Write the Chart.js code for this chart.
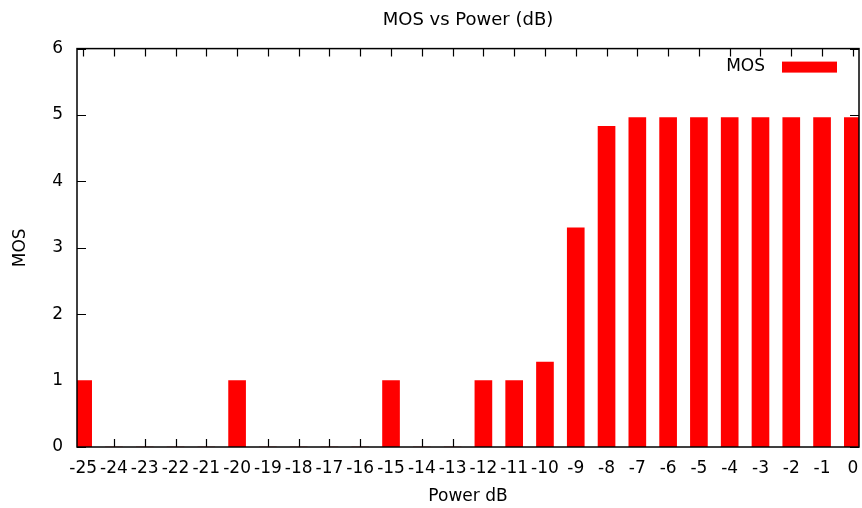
<!DOCTYPE html>
<html>
<head>
<meta charset="utf-8">
<script src="https://cdn.jsdelivr.net/npm/chart.js@4.4.1/dist/chart.umd.min.js"></script>
<style>
  html, body { margin: 0; padding: 0; background: #fff; }
  #wrap { width: 862px; height: 508px; }
</style>
</head>
<body>
<div id="wrap"><canvas id="chart"></canvas></div>
<script>
const powerDb = [-25, -24, -23, -22, -21, -20, -19, -18, -17, -16, -15, -14, -13,
  -12, -11, -10, -9, -8, -7, -6, -5, -4, -3, -2, -1, 0];
const mos = [1, 0, 0, 0, 0, 1, 0, 0, 0, 0, 1, 0, 0,
  1, 1, 1.28, 3.3, 4.83, 4.96, 4.96, 4.96, 4.96, 4.96, 4.96, 4.96, 4.96];
const yTicks = [0, 1, 2, 3, 4, 5, 6];

const FONT = "'DejaVu Sans', sans-serif";
const INK = "#000";
const SIZE = 17;

// gnuplot look: box border + inward ticks on all four sides
const frame = {
  id: "frame",
  beforeDatasetsDraw(c) {
    const { ctx, chartArea: a, scales } = c;
    ctx.save();
    ctx.strokeStyle = INK;
    ctx.lineWidth = 1.2;
    ctx.beginPath();
    scales.x.ticks.forEach((t) => {
      const px = Math.round(scales.x.getPixelForValue(t.value)) + 0.5;
      ctx.moveTo(px, a.bottom);
      ctx.lineTo(px, a.bottom - 8);
      ctx.moveTo(px, a.top);
      ctx.lineTo(px, a.top + 8);
    });
    scales.y.ticks.forEach((t) => {
      const py = Math.round(scales.y.getPixelForValue(t.value)) + 0.5;
      ctx.moveTo(a.left, py);
      ctx.lineTo(a.left + 9, py);
      ctx.moveTo(a.right, py);
      ctx.lineTo(a.right - 9, py);
    });
    ctx.stroke();
    ctx.restore();
  },
  afterDatasetsDraw(c) {
    const { ctx, chartArea: a } = c;
    ctx.save();
    ctx.strokeStyle = INK;
    ctx.lineWidth = 1.5;
    ctx.strokeRect(a.left, a.top, a.right - a.left, a.bottom - a.top);

    // key in the top right corner: label then swatch
    ctx.fillStyle = INK;
    ctx.font = SIZE + "px " + FONT;
    ctx.textAlign = "right";
    ctx.textBaseline = "middle";
    ctx.fillText(c.data.datasets[0].label, a.right - 94, a.top + 18);
    ctx.fillStyle = "#ff0000";
    ctx.fillRect(a.right - 77, a.top + 13, 55, 11);
    ctx.restore();
  },
};

new Chart(document.getElementById("chart"), {
  type: "bar",
  data: {
    datasets: [
      {
        label: "MOS",
        data: powerDb.map((p, i) => ({ x: p, y: mos[i] })),
        backgroundColor: "#ff0000",
        borderWidth: 0,
        barThickness: 17,
      },
    ],
  },
  plugins: [frame],
  options: {
    responsive: true,
    maintainAspectRatio: false,
    animation: false,
    layout: { padding: { right: 3, top: 0, bottom: 0, left: 0 } },
    plugins: {
      legend: { display: false },
      tooltip: { enabled: false },
      title: {
        display: true,
        fullSize: false,
        text: "MOS vs Power (dB)",
        color: INK,
        font: { family: FONT, size: 18, weight: "normal" },
        padding: { top: 10, bottom: 17 },
      },
    },
    scales: {
      x: {
        type: "linear",
        offset: false,
        min: -25.2,
        max: 0.2,
        afterBuildTicks: (s) => {
          s.ticks = powerDb.map((v) => ({ value: v }));
        },
        afterFit: (s) => {
          s.height = 61;
          s.paddingLeft = 0;
          s.paddingRight = 0;
        },
        grid: { display: false, drawTicks: false, offset: false },
        border: { display: false },
        ticks: {
          color: INK,
          font: { family: FONT, size: SIZE },
          padding: 11,
          maxRotation: 0,
          autoSkip: false,
          callback: (v) => String(v),
        },
        title: {
          display: true,
          text: "Power dB",
          color: INK,
          font: { family: FONT, size: SIZE },
          padding: { top: 0, bottom: 1 },
        },
      },
      y: {
        min: 0,
        max: 6,
        afterBuildTicks: (s) => {
          s.ticks = yTicks.map((v) => ({ value: v }));
        },
        afterFit: (s) => {
          s.width = 77;
          s.paddingTop = 0;
          s.paddingBottom = 0;
        },
        grid: { display: false, drawTicks: false },
        border: { display: false },
        ticks: {
          color: INK,
          font: { family: FONT, size: SIZE },
          padding: 14,
        },
        title: {
          display: true,
          text: "MOS",
          color: INK,
          font: { family: FONT, size: SIZE },
          padding: { top: 10, bottom: 0 },
        },
      },
    },
  },
});
</script>
</body>
</html>
